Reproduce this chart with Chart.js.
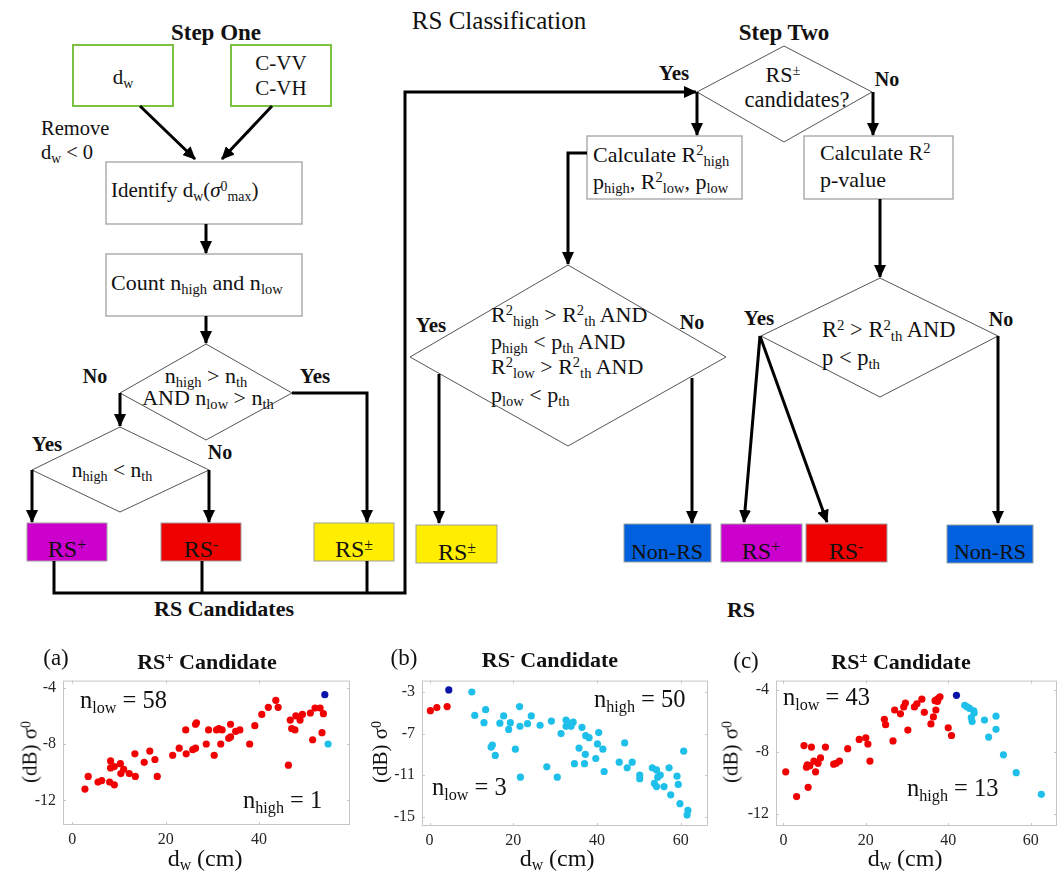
<!DOCTYPE html>
<html>
<head>
<meta charset="utf-8">
<script src="https://cdn.jsdelivr.net/npm/chart.js@4.4.1/dist/chart.umd.min.js"></script>
<style>
  body { margin: 0; background: #fff; }
  #page { position: relative; width: 1061px; height: 877px; overflow: hidden; font-family: "Liberation Serif", "Times New Roman", serif; color: #111; }
  #flow { position: absolute; left: 0; top: 0; }
  .box { position: absolute; }
  .t { position: absolute; white-space: nowrap; line-height: 1; transform: translate(-50%, -50%); }
  .l { transform: translate(0, -50%); }
  .b { font-weight: bold; }
  .rot { transform: translate(-50%, -50%) rotate(-90deg); }
  sub { font-size: .66em; vertical-align: baseline; position: relative; top: .28em; }
  sup { font-size: .66em; vertical-align: baseline; position: relative; top: -.45em; }
</style>
</head>
<body>
<div id="page">
<svg id="flow" width="1061" height="877" viewBox="0 0 1061 877">
  <defs>
    <marker id="ah" markerWidth="13" markerHeight="12" refX="12" refY="6" orient="auto" markerUnits="userSpaceOnUse">
      <path d="M0,0 L13,6 L0,12 z" fill="#000"/>
    </marker>
  </defs>
  <!-- step one inputs -->
  <g fill="none" stroke="#7dc142" stroke-width="2">
    <rect x="73" y="45" width="100" height="61"/>
    <rect x="231" y="45" width="100" height="61"/>
  </g>
  <g fill="#fff" stroke="#9a9a9a" stroke-width="1.2">
    <rect x="106" y="162" width="196" height="62"/>
    <rect x="106" y="254" width="196" height="62"/>
    <rect x="587" y="136" width="155" height="63"/>
    <rect x="804" y="136" width="149" height="63"/>
  </g>
  <g fill="none" stroke="#555" stroke-width="1">
    <polygon points="206,344 292,393 206,440 120,393"/>
    <polygon points="120,427 209,470 120,512 32,470"/>
    <polygon points="784,46 872,92 784,142 697,92"/>
    <polygon points="568,265 726,357 568,446 410,357"/>
    <polygon points="880,278 998,336 880,397 761,336"/>
  </g>
  <g stroke="#a0a0a0" stroke-width="1">
    <rect x="27" y="523" width="80" height="38" fill="#cc00cc"/>
    <rect x="161" y="523" width="80" height="38" fill="#ee0000"/>
    <rect x="314" y="523" width="80" height="38" fill="#ffee00"/>
    <rect x="416" y="525" width="81" height="38" fill="#ffee00"/>
    <rect x="624" y="524" width="87" height="38" fill="#0060dd"/>
    <rect x="721" y="524" width="81" height="38" fill="#cc00cc"/>
    <rect x="806" y="524" width="81" height="38" fill="#ee0000"/>
    <rect x="947" y="525" width="86" height="38" fill="#0060dd"/>
  </g>
  <g fill="none" stroke="#000" stroke-width="3">
    <path d="M140,106 L195,159" marker-end="url(#ah)"/>
    <path d="M272,106 L222,159" marker-end="url(#ah)"/>
    <path d="M206,224 L206,253" marker-end="url(#ah)"/>
    <path d="M206,316 L206,343" marker-end="url(#ah)"/>
    <path d="M120,393 L120,426" marker-end="url(#ah)"/>
    <path d="M292,393 L367,393 L367,522" marker-end="url(#ah)"/>
    <path d="M32,470 L32,522" marker-end="url(#ah)"/>
    <path d="M209,470 L209,522" marker-end="url(#ah)"/>
    <path d="M54,561 L54,593 L405,593 L405,92 L696,92" marker-end="url(#ah)"/>
    <path d="M202,561 L202,593"/>
    <path d="M367,561 L367,593"/>
    <path d="M697,92 L697,135" marker-end="url(#ah)"/>
    <path d="M873,92 L873,135" marker-end="url(#ah)"/>
    <path d="M587,153 L568,153 L568,264" marker-end="url(#ah)"/>
    <path d="M880,199 L880,277" marker-end="url(#ah)"/>
    <path d="M439,374 L439,523" marker-end="url(#ah)"/>
    <path d="M692,378 L692,523" marker-end="url(#ah)"/>
    <path d="M760,336 L744,522" marker-end="url(#ah)"/>
    <path d="M760,336 L827,522" marker-end="url(#ah)"/>
    <path d="M998,336 L998,523" marker-end="url(#ah)"/>
  </g>
</svg>

<div class="box" style="left:0px;top:664px;width:360px;height:186px"><canvas id="chartA"></canvas></div>
<div class="box" style="left:360px;top:664px;width:358px;height:186px"><canvas id="chartB"></canvas></div>
<div class="box" style="left:716px;top:664px;width:345px;height:186px"><canvas id="chartC"></canvas></div>

<!-- flowchart text -->
<div class="t" style="left:499px;top:20px;font-size:25px">RS Classification</div>
<div class="t b" style="left:216px;top:32px;font-size:23px">Step One</div>
<div class="t" style="left:123px;top:77px;font-size:21px">d<sub>w</sub></div>
<div class="t" style="left:281px;top:63px;font-size:21px">C-VV</div>
<div class="t" style="left:281px;top:88px;font-size:21px">C-VH</div>
<div class="t l" style="left:41px;top:128px;font-size:20.5px">Remove</div>
<div class="t l" style="left:41px;top:152px;font-size:20.5px">d<sub>w</sub> &lt; 0</div>
<div class="t l" style="left:111px;top:190px;font-size:21px">Identify d<sub>w</sub>(<i>σ</i><sup>0</sup><sub>max</sub>)</div>
<div class="t l" style="left:111px;top:283px;font-size:22px">Count n<sub>high</sub> and n<sub>low</sub></div>
<div class="t" style="left:206px;top:376px;font-size:22px">n<sub>high</sub> &gt; n<sub>th</sub></div>
<div class="t" style="left:208px;top:398px;font-size:22px">AND n<sub>low</sub> &gt; n<sub>th</sub></div>
<div class="t b" style="left:95px;top:376px;font-size:20px">No</div>
<div class="t b" style="left:315px;top:376px;font-size:21px">Yes</div>
<div class="t" style="left:112px;top:471px;font-size:21.5px">n<sub>high</sub> &lt; n<sub>th</sub></div>
<div class="t b" style="left:47px;top:444px;font-size:21px">Yes</div>
<div class="t b" style="left:220px;top:452px;font-size:20px">No</div>
<div class="t" style="left:67px;top:549px;font-size:24px">RS<sup>+</sup></div>
<div class="t" style="left:201px;top:549px;font-size:24px">RS<sup>-</sup></div>
<div class="t" style="left:354px;top:549px;font-size:24px">RS<sup>±</sup></div>
<div class="t b" style="left:224px;top:609px;font-size:22px">RS Candidates</div>

<div class="t b" style="left:784px;top:32px;font-size:23px">Step Two</div>
<div class="t" style="left:783px;top:75px;font-size:22px">RS<sup>±</sup></div>
<div class="t" style="left:797px;top:100px;font-size:22.5px">candidates?</div>
<div class="t b" style="left:674px;top:73px;font-size:21px">Yes</div>
<div class="t b" style="left:887px;top:79px;font-size:20px">No</div>
<div class="t l" style="left:593px;top:155px;font-size:22px">Calculate R<sup>2</sup><sub>high</sub></div>
<div class="t l" style="left:593px;top:182px;font-size:22px">p<sub>high</sub>, R<sup>2</sup><sub>low</sub>, p<sub>low</sub></div>
<div class="t l" style="left:820px;top:153px;font-size:22px">Calculate R<sup>2</sup></div>
<div class="t l" style="left:820px;top:180px;font-size:22px">p-value</div>
<div class="t l" style="left:491px;top:315px;font-size:22px">R<sup>2</sup><sub>high</sub> &gt; R<sup>2</sup><sub>th</sub> AND</div>
<div class="t l" style="left:491px;top:342px;font-size:22px">p<sub>high</sub> &lt; p<sub>th</sub> AND</div>
<div class="t l" style="left:491px;top:367px;font-size:22px">R<sup>2</sup><sub>low</sub> &gt; R<sup>2</sup><sub>th</sub> AND</div>
<div class="t l" style="left:491px;top:395px;font-size:22px">p<sub>low</sub> &lt; p<sub>th</sub></div>
<div class="t b" style="left:431px;top:325px;font-size:21px">Yes</div>
<div class="t b" style="left:692px;top:322px;font-size:20px">No</div>
<div class="t l" style="left:822px;top:330px;font-size:22.5px">R<sup>2</sup> &gt; R<sup>2</sup><sub>th</sub> AND</div>
<div class="t l" style="left:822px;top:358px;font-size:22.5px">p &lt; p<sub>th</sub></div>
<div class="t b" style="left:759px;top:318px;font-size:21px">Yes</div>
<div class="t b" style="left:1001px;top:319px;font-size:20px">No</div>
<div class="t" style="left:457px;top:552px;font-size:24px">RS<sup>±</sup></div>
<div class="t" style="left:667px;top:552px;font-size:22px">Non-RS</div>
<div class="t" style="left:761px;top:551px;font-size:24px">RS<sup>+</sup></div>
<div class="t" style="left:846px;top:551px;font-size:24px">RS<sup>-</sup></div>
<div class="t" style="left:990px;top:552px;font-size:22px">Non-RS</div>
<div class="t b" style="left:741px;top:610px;font-size:22px">RS</div>

<!-- scatter panel text -->
<div class="t" style="left:56px;top:657px;font-size:23px">(a)</div>
<div class="t b" style="left:207px;top:662px;font-size:22px">RS<sup>+</sup> Candidate</div>
<div class="t l" style="left:80px;top:700px;font-size:24.5px">n<sub>low</sub> = 58</div>
<div class="t l" style="left:243px;top:800px;font-size:24.5px">n<sub>high</sub> = 1</div>
<div class="t rot" style="left:30px;top:752px;font-size:21px">(dB) σ<sup>0</sup></div>
<div class="t" style="left:205px;top:858px;font-size:24px">d<sub>w</sub> (cm)</div>

<div class="t" style="left:404px;top:657px;font-size:23px">(b)</div>
<div class="t b" style="left:550px;top:660px;font-size:22px">RS<sup>-</sup> Candidate</div>
<div class="t l" style="left:594px;top:699px;font-size:24.5px">n<sub>high</sub> = 50</div>
<div class="t l" style="left:432px;top:787px;font-size:24.5px">n<sub>low</sub> = 3</div>
<div class="t rot" style="left:380px;top:752px;font-size:21px">(dB) σ<sup>0</sup></div>
<div class="t" style="left:557px;top:858px;font-size:24px">d<sub>w</sub> (cm)</div>

<div class="t" style="left:746px;top:660px;font-size:23px">(c)</div>
<div class="t b" style="left:901px;top:662px;font-size:22px">RS<sup>±</sup> Candidate</div>
<div class="t l" style="left:783px;top:697px;font-size:24.5px">n<sub>low</sub> = 43</div>
<div class="t l" style="left:907px;top:788px;font-size:24.5px">n<sub>high</sub> = 13</div>
<div class="t rot" style="left:731px;top:752px;font-size:21px">(dB) σ<sup>0</sup></div>
<div class="t" style="left:905px;top:858px;font-size:24px">d<sub>w</sub> (cm)</div>
</div>

<script>
// (a) RS+ candidate: d_w (cm), sigma0 (dB)
const aLow = [[2.7,-11.2],[3.4,-10.3],[5.5,-10.7],[6.3,-10.6],[8.0,-10.7],[9.0,-10.9],[8.2,-9.2],[8.2,-9.7],[9.0,-9.6],[10.3,-9.4],
  [10.4,-10.1],[11.0,-9.8],[12.2,-10.1],[13.5,-10.3],[13.4,-8.7],[15.4,-9.3],[16.6,-8.5],[17.7,-9.1],[18.2,-10.3],[21.5,-8.8],
  [22.9,-8.3],[24.3,-7.0],[24.4,-8.7],[25.8,-8.4],[26.4,-6.6],[26.6,-6.5],[26.4,-8.3],[28.7,-8.0],[29.2,-7.0],[30.4,-8.8],
  [30.9,-7.0],[31.4,-6.9],[31.8,-8.0],[32.1,-7.0],[33.5,-7.6],[33.9,-7.5],[33.9,-6.6],[35.0,-7.1],[35.9,-7.0],[38.0,-8.0],
  [39.1,-6.7],[40.6,-5.9],[42.0,-5.4],[43.6,-4.9],[44.1,-5.4],[46.3,-9.5],[46.7,-6.3],[47.0,-6.9],[47.7,-7.0],[47.9,-6.0],
  [48.8,-6.3],[49.3,-5.9],[51.0,-5.8],[51.5,-7.7],[52.0,-5.45],[53.1,-5.45],[53.5,-7.2],[53.8,-5.85]];
const aPeak = [[54.1,-4.5]];
const aHigh = [[54.8,-8.0]];
const aXTicks = [0, 20, 40];
const aYTicks = [-12, -8, -4];

// (b) RS- candidate
const bLow = [[0.2,-4.8],[1.75,-4.5],[4.2,-4.4]];
const bPeak = [[4.6,-2.8]];
const bHigh = [[10.1,-3.0],[10.8,-5.25],[13.0,-5.95],[13.4,-4.7],[14.7,-8.3],[15.0,-8.1],[15.7,-9.1],[16.8,-6.0],[17.7,-5.3],[18.9,-6.6],
  [19.3,-5.95],[20.5,-8.5],[21.5,-4.4],[21.6,-6.3],[21.7,-11.2],[23.4,-6.05],[24.3,-5.3],[26.4,-6.2],[28.0,-10.2],[29.1,-5.8],
  [30.5,-11.2],[31.4,-7.0],[32.6,-5.7],[32.6,-6.3],[33.2,-6.0],[33.8,-6.3],[34.3,-5.9],[34.6,-9.9],[35.7,-8.4],[36.4,-6.4],
  [37.0,-9.9],[37.2,-9.0],[37.3,-7.2],[38.1,-7.4],[39.7,-9.4],[40.1,-8.0],[40.4,-6.9],[41.4,-8.5],[41.7,-10.65],[45.3,-9.75],
  [46.6,-7.9],[47.2,-10.3],[48.4,-9.75],[50.2,-11.0],[50.2,-11.35],[53.2,-10.3],[53.7,-11.8],[54.2,-10.5],[54.2,-12.1],[54.5,-11.2],
  [55.1,-11.0],[56.0,-12.1],[57.2,-10.3],[57.6,-12.9],[59.1,-11.1],[59.4,-11.9],[59.8,-13.75],[60.7,-8.7],[61.5,-14.85],[61.7,-14.4]];
const bXTicks = [0, 20, 40, 60];
const bYTicks = [-15, -11, -7, -3];

// (c) RS+/- candidate
const cLow = [[0.56,-9.3],[3.2,-10.9],[5.0,-7.6],[5.6,-9.0],[5.8,-8.85],[6.0,-10.3],[6.4,-8.9],[6.8,-7.7],[7.4,-8.6],[7.8,-9.3],
  [8.4,-8.75],[9.0,-8.4],[10.2,-7.7],[12.2,-8.8],[12.8,-8.75],[13.6,-8.6],[15.6,-7.8],[18.4,-7.2],[20.0,-7.1],[20.5,-7.5],
  [21.0,-8.6],[24.5,-5.9],[24.8,-6.25],[26.6,-7.3],[27.0,-5.3],[28.4,-5.55],[29.2,-5.1],[29.6,-4.85],[30.2,-6.6],[31.8,-5.1],
  [32.4,-4.9],[33.6,-4.6],[34.2,-5.45],[35.8,-6.2],[36.4,-5.75],[36.8,-4.7],[37.0,-5.3],[37.1,-4.65],[37.4,-4.75],[37.6,-4.55],
  [38.0,-4.45],[40.0,-6.45],[40.8,-6.95]];
const cPeak = [[42.0,-4.35]];
const cHigh = [[44.0,-5.0],[44.6,-5.1],[45.2,-5.2],[45.6,-5.8],[45.8,-6.05],[46.2,-5.35],[46.3,-5.5],[48.8,-5.95],[49.8,-7.05],
  [51.6,-5.7],[51.6,-6.55],[53.4,-8.2],[56.5,-9.35],[62.6,-10.75]];
const cXTicks = [0, 20, 40, 60];
const cYTicks = [-12, -8, -4];

const RED = '#f00000', CYAN = '#1ec0ea', BLUE = '#0a14a8';

Chart.defaults.font.family = '"Liberation Serif", "Times New Roman", serif';

// MATLAB-like box with inward ticks
const framePlugin = {
  id: 'frame',
  beforeDatasetsDraw(chart) {
    const { ctx, chartArea: a, scales: { x, y } } = chart;
    ctx.save();
    ctx.strokeStyle = '#c6c6c6';
    ctx.lineWidth = 1;
    ctx.strokeRect(a.left + 0.5, a.top + 0.5, a.width - 1, a.height - 1);
    ctx.beginPath();
    x.ticks.forEach(t => {
      const px = Math.round(x.getPixelForValue(t.value)) + 0.5;
      ctx.moveTo(px, a.bottom); ctx.lineTo(px, a.bottom - 3);
      ctx.moveTo(px, a.top); ctx.lineTo(px, a.top + 3);
    });
    y.ticks.forEach(t => {
      const py = Math.round(y.getPixelForValue(t.value)) + 0.5;
      ctx.moveTo(a.left, py); ctx.lineTo(a.left + 3, py);
      ctx.moveTo(a.right, py); ctx.lineTo(a.right - 3, py);
    });
    ctx.stroke();
    ctx.restore();
  }
};

function toPoints(arr) {
  return arr.map(p => ({ x: p[0], y: p[1] }));
}

function makeChart(id, low, peak, high, xRange, yRange, xTicks, yTicks, yw, xh, padTop, padRight) {
  const ds = (data, color) => ({
    data: toPoints(data),
    backgroundColor: color,
    borderWidth: 0,
    pointRadius: 3.6,
    clip: false
  });
  new Chart(document.getElementById(id), {
    type: 'scatter',
    data: { datasets: [ds(low, RED), ds(high, CYAN), ds(peak, BLUE)] },
    options: {
      responsive: true,
      maintainAspectRatio: false,
      animation: false,
      events: [],
      layout: { padding: { top: padTop, right: padRight, left: 0, bottom: 0 } },
      plugins: { legend: { display: false }, tooltip: { enabled: false } },
      scales: {
        x: {
          type: 'linear',
          min: xRange[0], max: xRange[1],
          afterBuildTicks: s => { s.ticks = xTicks.map(v => ({ value: v })); },
          afterFit: s => { s.height = xh; },
          grid: { display: false, drawTicks: false },
          border: { display: false },
          ticks: { color: '#262626', font: { size: 16 }, padding: 5 }
        },
        y: {
          type: 'linear',
          min: yRange[0], max: yRange[1],
          afterBuildTicks: s => { s.ticks = yTicks.map(v => ({ value: v })); },
          afterFit: s => { s.width = yw; },
          grid: { display: false, drawTicks: false },
          border: { display: false },
          ticks: { color: '#262626', font: { size: 16 }, padding: 7 }
        }
      }
    },
    plugins: [framePlugin]
  });
}

makeChart('chartA', aLow, aPeak, aHigh, [-2, 59.5], [-13.75, -3.5], aXTicks, aYTicks, 63, 25, 15, 10);
makeChart('chartB', bLow, bPeak, bHigh, [-1.8, 66.5], [-15.9, -1.9], bXTicks, bYTicks, 62, 24, 15, 10);
makeChart('chartC', cLow, cPeak, cHigh, [-1.8, 66.4], [-12.8, -3.4], cXTicks, cYTicks, 60, 24, 15, 3);
</script>
</body>
</html>
